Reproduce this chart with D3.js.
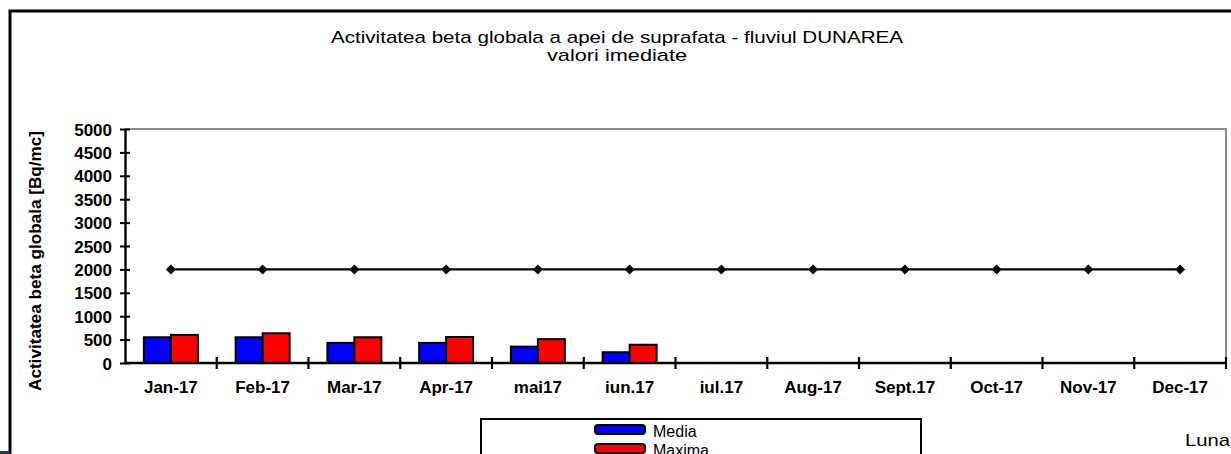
<!DOCTYPE html>
<html>
<head>
<meta charset="utf-8">
<script src="https://cdn.jsdelivr.net/npm/d3@7"></script>
<style>
  body { margin: 0; background: #fff; }
  svg { display: block; }
  text { font-family: "Liberation Sans", Arial, sans-serif; fill: #000; }
  .tick-label { font-size: 17px; font-weight: bold; }
</style>
</head>
<body>
<div id="chart"></div>
<script>
// luni si valori
var months = ['Jan-17', 'Feb-17', 'Mar-17', 'Apr-17', 'mai17', 'iun.17',
  'iul.17', 'Aug-17', 'Sept.17', 'Oct-17', 'Nov-17', 'Dec-17']
var media = [550, 550, 430, 430, 350, 230]
var maxima = [600, 635, 550, 555, 510, 390]
var limita = [2000, 2000, 2000, 2000, 2000, 2000, 2000, 2000, 2000, 2000, 2000, 2000]
var yTicks = [0, 500, 1000, 1500, 2000, 2500, 3000, 3500, 4000, 4500, 5000]
var series = [
  {name: 'Media', color: '#0000ff', values: media},
  {name: 'Maxima', color: '#ff0000', values: maxima}
]

var width = 1231, height = 454
var pLeft = 125, pRight = 1226, pTop = 129, pBottom = 363

var svg = d3.select('#chart').append('svg')
  .attr('width', width).attr('height', height)

// chenarul exterior
svg.append('rect')
  .attr('x', 10).attr('y', 11).attr('width', 1240).attr('height', 470)
  .attr('fill', 'none').attr('stroke', '#000').attr('stroke-width', 3)
svg.append('rect')
  .attr('x', 0).attr('y', 451).attr('width', 10).attr('height', 3)
  .attr('fill', '#1f3b5a')

// titlu
svg.append('text').attr('x', 617).attr('y', 43).attr('text-anchor', 'middle')
  .style('font-size', '17px')
  .attr('textLength', 572).attr('lengthAdjust', 'spacingAndGlyphs')
  .text('Activitatea beta globala a apei de suprafata - fluviul DUNAREA')
svg.append('text').attr('x', 617).attr('y', 61).attr('text-anchor', 'middle')
  .style('font-size', '17px')
  .attr('textLength', 140).attr('lengthAdjust', 'spacingAndGlyphs')
  .text('valori imediate')

var x = d3.scaleBand().domain(months).range([pLeft, pRight])
var xInner = d3.scaleBand().domain(series.map(d => d.name))
  .range([0, x.bandwidth()]).paddingOuter(0.7)
var y = d3.scaleLinear().domain([0, 5000]).range([pBottom, pTop])

// marginea zonei de plotare (sus, dreapta)
svg.append('path')
  .attr('d', 'M' + pLeft + ',' + pTop + 'H' + pRight + 'V' + pBottom)
  .attr('fill', 'none').attr('stroke', '#8c8c8c').attr('stroke-width', 2)

// bare
series.forEach(function(s){
  svg.append('g').selectAll('rect')
    .data(s.values)
    .join('rect')
    .attr('x', (d, i) => x(months[i]) + xInner(s.name))
    .attr('y', d => y(d))
    .attr('width', xInner.bandwidth())
    .attr('height', d => y(0) - y(d))
    .attr('fill', s.color)
    .attr('stroke', '#000').attr('stroke-width', 2)
})

// axa Y
var yAxis = d3.axisLeft(y).tickValues(yTicks).tickFormat(d3.format('d'))
  .tickSizeInner(5).tickSizeOuter(0)
var gy = svg.append('g').attr('transform', 'translate(' + pLeft + ',0)').call(yAxis)
gy.select('.domain').attr('stroke-width', 2.4)
gy.selectAll('.tick line').attr('x2', 5).attr('x1', -5).attr('stroke-width', 2)
gy.selectAll('.tick text').attr('class', 'tick-label').attr('x', -13).attr('dy', '0.36em')

// axa X
var gx = svg.append('g').attr('transform', 'translate(0,' + pBottom + ')')
gx.append('line').attr('x1', pLeft).attr('x2', pRight)
  .attr('stroke', '#000').attr('stroke-width', 2.6)
gx.selectAll('line.tk')
  .data(months)
  .join('line').attr('class', 'tk')
  .attr('x1', d => x(d) + x.step())
  .attr('x2', d => x(d) + x.step())
  .attr('y1', -6).attr('y2', 6)
  .attr('stroke', '#000').attr('stroke-width', 2.2)
gx.selectAll('text')
  .data(months)
  .join('text').attr('class', 'tick-label')
  .attr('x', d => x(d) + x.bandwidth() / 2)
  .attr('y', 30)
  .attr('text-anchor', 'middle')
  .text(d => d)

// linia limita 2000
var line = d3.line()
  .x((d, i) => x(months[i]) + x.bandwidth() / 2)
  .y(d => y(d))
svg.append('path').attr('d', line(limita))
  .attr('fill', 'none').attr('stroke', '#000').attr('stroke-width', 2.4)
svg.append('g').selectAll('path')
  .data(limita)
  .join('path')
  .attr('transform', (d, i) => 'translate(' + (x(months[i]) + x.bandwidth() / 2) + ',' + y(d) + ')')
  .attr('d', 'M0,-5L5,0L0,5L-5,0Z')
  .attr('fill', '#000')

// titlu axa Y
svg.append('text')
  .attr('transform', 'translate(41,261) rotate(-90)')
  .attr('text-anchor', 'middle')
  .style('font-size', '16px').style('font-weight', 'bold')
  .attr('textLength', 260).attr('lengthAdjust', 'spacingAndGlyphs')
  .text('Activitatea beta globala [Bq/mc]')

// titlu axa X
svg.append('text').attr('x', 1230).attr('y', 446).attr('text-anchor', 'end')
  .style('font-size', '17px')
  .attr('textLength', 45).attr('lengthAdjust', 'spacingAndGlyphs')
  .text('Luna')

// legenda
svg.append('rect')
  .attr('x', 481).attr('y', 419).attr('width', 440).attr('height', 60)
  .attr('fill', '#fff').attr('stroke', '#000').attr('stroke-width', 2)
var leg = svg.append('g').selectAll('g')
  .data(series)
  .join('g')
  .attr('transform', (d, i) => 'translate(595,' + (425 + i * 19) + ')')
leg.append('rect')
  .attr('width', 50).attr('height', 9).attr('rx', 3)
  .attr('fill', d => d.color).attr('stroke', '#000').attr('stroke-width', 2)
leg.append('text')
  .attr('x', 58).attr('y', 12)
  .style('font-size', '16px')
  .text(d => d.name)
</script>
</body>
</html>
